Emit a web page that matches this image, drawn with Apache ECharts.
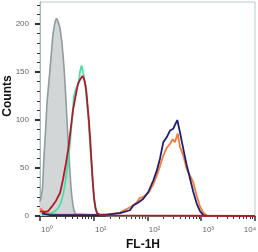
<!DOCTYPE html>
<html>
<head>
<meta charset="utf-8">
<script src="https://cdn.jsdelivr.net/npm/echarts@6/dist/echarts.min.js"></script>
<style>html,body{margin:0;padding:0;background:#fff;}#c{width:258px;height:252px;}</style>
</head>
<body>
<div id="c"></div>
<script>
// ---- axis ticks / labels ----
const xTickValues = [1, 10, 100, 1000, 10000];
const xTickLabels = ['10⁰', '10¹', '10²', '10³', '10⁴'];
const xMinorMultipliers = [2, 3, 4, 5, 6, 7, 8, 9];
const yTickValues = [0, 50, 100, 150, 200];
const yMinorTickValues = [10, 20, 30, 40, 60, 70, 80, 90, 110, 120, 130, 140, 160, 170, 180, 190, 210, 220];
const xTitle = 'FL-1H';
const yTitle = 'Counts';

// ---- series: [FL-1H intensity, counts] ----
const grayControl = [[1.0,15],[1.044,19],[1.113,29],[1.187,62],[1.266,88],[1.35,118],[1.535,153],[1.746,190],[1.902,202],[2.028,206],[2.162,203],[2.356,196],[2.567,180],[2.679,168],[2.796,155],[2.918,138],[3.046,120],[3.18,100],[3.319,80],[3.464,62],[3.615,45],[3.773,30],[3.938,19],[4.111,11],[4.292,6],[4.479,3],[4.88,1],[5.316,0]];
const greenSeries = [[1.089,1],[1.409,2],[1.822,4],[2.162,8],[2.458,14],[2.679,22],[2.918,33],[3.18,47],[3.464,65],[3.773,88],[4.024,108],[4.292,125],[4.576,131],[4.88,131],[5.203,138],[5.549,150],[5.917,157],[6.176,155],[6.586,145],[7.024,134],[7.489,118],[7.986,100],[8.516,75],[9.082,53],[9.683,32],[10.33,15],[11.01,6],[12.0,2],[13.07,0.5],[20.06,0],[10000,0]];
const redSeries = [[1.0,5],[1.187,4],[1.409,5],[1.672,10],[1.985,16],[2.356,24],[2.679,38],[3.046,55],[3.362,70],[3.615,85],[3.889,99],[4.111,110],[4.422,120],[4.776,130],[5.093,138],[5.549,142],[6.176,146],[6.586,143],[7.024,136],[7.331,128],[7.816,110],[8.159,98],[8.627,78],[9.082,57],[9.601,35],[10.11,19],[10.78,8],[11.5,3],[13.07,1],[20.06,0.5],[10000,0]];
const navySeries = [[1.089,3],[1.239,2],[1.535,1],[2.356,1],[3.615,1],[5.549,1],[8.516,1],[13.07,1],[17.42,1.5],[30.79,3],[47.25,6],[54.43,11],[67.43,14],[83.55,18],[103.5,25],[128.2,37],[148.4,47],[170.9,60],[196.8,77],[227.7,82],[262.2,89],[302,91],[324.8,95],[358.4,100],[402.5,87],[463.5,70],[536.2,53],[617.8,39],[711.5,25],[823.1,13],[947.7,5],[1092,1],[1263,0]];
const orangeSeries = [[1.0,8],[1.089,7],[1.187,5],[1.35,3],[1.672,2],[2.356,1.5],[3.615,1.5],[5.549,2],[8.516,1.5],[13.07,1.5],[20.06,2],[30.79,3.5],[47.25,9],[62.98,14],[72.53,19],[83.55,20],[103.5,24],[128.2,33],[148.4,42],[170.9,52],[196.8,63],[227.7,71],[262.2,75],[294.3,80],[324.8,77],[364.7,86],[402.5,72],[463.5,63],[536.2,49],[617.8,42],[711.5,35],[823.1,21],[947.7,10],[1092,3.5],[1263,0.5],[1455,0]];

const xMinorTickValues = [];
xTickValues.slice(0, -1).forEach(d => xMinorMultipliers.forEach(k => xMinorTickValues.push(k * d)));

const FONT = 'Liberation Sans, Arial, sans-serif';
const chart = echarts.init(document.getElementById('c'), null, {renderer: 'canvas'});

function lineSeries(name, data, color, z) {
  return {
    name, type: 'line', data, xAxisIndex: 0, yAxisIndex: 0,
    showSymbol: false, symbol: 'none', smooth: false, animation: false, z,
    lineStyle: {color, width: 1.8}
  };
}

chart.setOption({
  animation: false,
  grid: {left: 40, right: 3, top: 2, bottom: 36, show: true, borderColor: '#b9cbcb', borderWidth: 1, containLabel: false, outerBoundsMode: 'none'},
  graphic: [{
    type: 'text', x: 8, y: 96, rotation: Math.PI / 2,
    style: {text: yTitle, fontFamily: FONT, fontWeight: 'bold', fontSize: 12, fill: '#111', align: 'center', verticalAlign: 'middle'}
  }],
  xAxis: [{
    type: 'log', logBase: 10, min: 1, max: 10000, position: 'bottom',
    name: xTitle, nameLocation: 'middle', nameGap: 23,
    nameTextStyle: {fontFamily: FONT, fontWeight: 'bold', fontSize: 12, color: '#111', padding: [0, 9, 0, 0]},
    axisLine: {show: true, lineStyle: {color: '#444', width: 1}},
    axisTick: {show: true, customValues: xTickValues, length: 5, lineStyle: {color: '#333', width: 1.5}},
    axisLabel: {
      show: true, customValues: xTickValues, margin: 10,
      formatter: v => {
        const i = Math.round(Math.log10(v));
        return i === xTickLabels.length - 1 ? '{b|' + xTickLabels[i] + '}' : '{a|' + xTickLabels[i] + '}';
      },
      fontFamily: FONT, fontSize: 8, color: '#666',
      rich: {
        a: {fontFamily: FONT, fontSize: 8, color: '#666', padding: [0, 0, 0, 14]},
        b: {fontFamily: FONT, fontSize: 8, color: '#666', padding: [0, 10, 0, 0]}
      }
    },
    splitLine: {show: false}
  }, {
    type: 'log', logBase: 10, min: 1, max: 10000, position: 'bottom',
    axisLine: {show: true, lineStyle: {color: '#444', width: 1}},
    axisTick: {show: true, customValues: xMinorTickValues, length: 3, lineStyle: {color: '#333', width: 1}},
    axisLabel: {show: false},
    splitLine: {show: false}
  }],
  yAxis: [{
    type: 'value', min: 0, max: 223, position: 'left',
    axisLine: {show: true, lineStyle: {color: '#a8baba', width: 1}},
    axisTick: {show: true, customValues: yTickValues, length: 5, lineStyle: {color: '#333', width: 2}},
    axisLabel: {show: true, customValues: yTickValues, margin: 11, fontFamily: FONT, fontSize: 8, color: '#666'},
    splitLine: {show: false}
  }, {
    type: 'value', min: 0, max: 223, position: 'left',
    axisLine: {show: true, lineStyle: {color: '#a8baba', width: 1}},
    axisTick: {show: true, customValues: yMinorTickValues, length: 3, lineStyle: {color: '#333', width: 1}},
    axisLabel: {show: false},
    splitLine: {show: false}
  }],
  series: [
    {
      name: 'control', type: 'line', data: grayControl, xAxisIndex: 0, yAxisIndex: 0,
      showSymbol: false, symbol: 'none', animation: false, z: 1,
      lineStyle: {color: '#8d9c9d', width: 1.6},
      areaStyle: {color: '#d3d6d6', opacity: 1, origin: 'start'}
    },
    lineSeries('green', greenSeries, '#45e2a6', 2),
    lineSeries('orange', orangeSeries, '#f47b3a', 3),
    lineSeries('navy', navySeries, '#1d2070', 4),
    lineSeries('red', redSeries, '#b2192c', 5)
  ]
});
</script>
</body>
</html>
